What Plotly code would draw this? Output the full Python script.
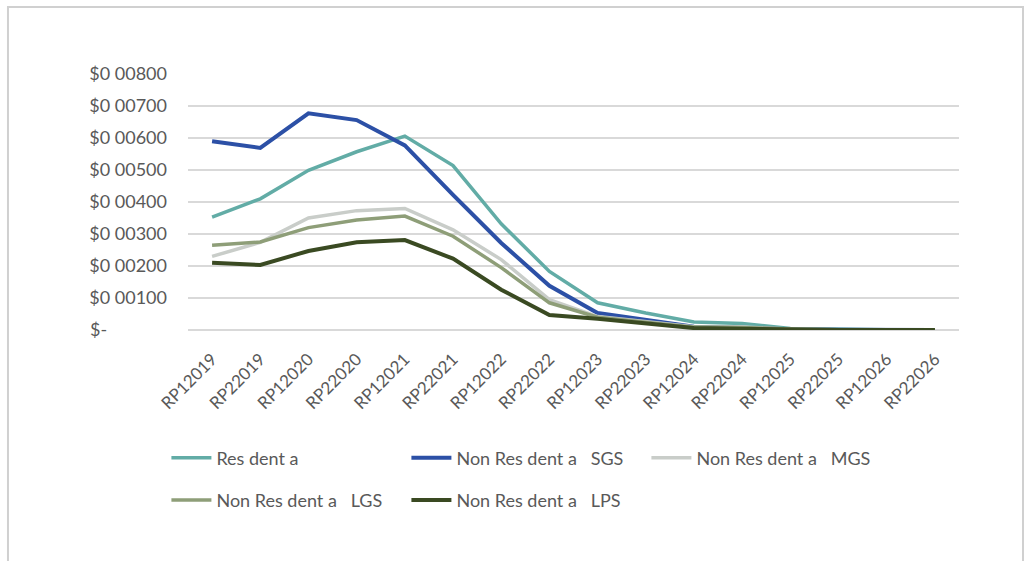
import plotly.graph_objects as go

categories = ["RP12019", "RP22019", "RP12020", "RP22020", "RP12021", "RP22021",
              "RP12022", "RP22022", "RP12023", "RP22023", "RP12024", "RP22024",
              "RP12025", "RP22025", "RP12026", "RP22026"]

residential = [0.00353, 0.00410, 0.00499, 0.00557, 0.00606, 0.00514, 0.00332, 0.00183,
               0.00085, 0.00053, 0.00025, 0.00020, 0.00005, 0.00002, 0.00001, 0.00000]
nonres_sgs = [0.00590, 0.00569, 0.00677, 0.00656, 0.00577, 0.00422, 0.00272, 0.00138,
              0.00053, 0.00030, 0.00010, 0.00007, 0.00002, 0.00001, 0.00000, 0.00000]
nonres_mgs = [0.00230, 0.00274, 0.00350, 0.00373, 0.00380, 0.00313, 0.00220, 0.00095,
              0.00042, 0.00026, 0.00010, 0.00009, 0.00003, 0.00001, 0.00000, 0.00000]
nonres_lgs = [0.00265, 0.00275, 0.00320, 0.00344, 0.00356, 0.00293, 0.00195, 0.00085,
              0.00040, 0.00024, 0.00009, 0.00008, 0.00003, 0.00001, 0.00000, 0.00000]
nonres_lps = [0.00210, 0.00203, 0.00247, 0.00274, 0.00281, 0.00223, 0.00126, 0.00047,
              0.00035, 0.00022, 0.00006, 0.00004, 0.00001, 0.00000, 0.00000, 0.00000]

series_names = ["Res dent a",
                "Non Res dent a\u00a0\u00a0\u00a0SGS",
                "Non Res dent a\u00a0\u00a0\u00a0MGS",
                "Non Res dent a\u00a0\u00a0\u00a0LGS",
                "Non Res dent a\u00a0\u00a0\u00a0LPS"]

y_tickvals = [0, 0.001, 0.002, 0.003, 0.004, 0.005, 0.006, 0.007, 0.008]
y_ticktext = ["$-" + "\u00a0" * 13, "$0 00100", "$0 00200", "$0 00300", "$0 00400",
              "$0 00500", "$0 00600", "$0 00700", "$0 00800"]

series = [residential, nonres_sgs, nonres_mgs, nonres_lgs, nonres_lps]
colors = ["#62ACA6", "#2C50A6", "#C9CDC9", "#8E9E78", "#3A4A22"]
widths = [3.5, 4, 3.5, 3.5, 4]
legend_ids = ["legend", "legend", "legend", "legend2", "legend2"]

FONT = "Lato, 'Liberation Sans', sans-serif"
TXT = "#595959"

fig = go.Figure()
for name, vals, c, w, lg in zip(series_names, series, colors, widths, legend_ids):
    fig.add_trace(go.Scatter(x=categories, y=vals, mode="lines", name=name,
                             line=dict(color=c, width=w), legend=lg))

legend_common = dict(orientation="h", xanchor="left", yanchor="middle",
                     entrywidth=185, entrywidthmode="pixels",
                     font=dict(family=FONT, size=18, color=TXT),
                     bgcolor="rgba(0,0,0,0)", itemwidth=40)

fig.update_layout(
    width=1026, height=561,
    margin=dict(l=188, r=67, t=74, b=231),
    paper_bgcolor="white", plot_bgcolor="white",
    font=dict(family=FONT, color=TXT),
    showlegend=True,
    legend=dict(x=-0.028, y=-0.5, **legend_common),
    legend2=dict(x=-0.028, y=-0.665, **legend_common),
    xaxis=dict(type="category", range=[-0.5, 15.5], showgrid=False,
               tickangle=-45, tickfont=dict(family=FONT, size=17, color=TXT),
               ticks="", showline=False, ticklabelstandoff=15),
    yaxis=dict(range=[0, 0.008], tickvals=y_tickvals, ticktext=y_ticktext,
               showgrid=True, gridcolor="#D9D9D9", gridwidth=2,
               tickfont=dict(family=FONT, size=18, color=TXT),
               zeroline=True, zerolinecolor="#D9D9D9", zerolinewidth=2,
               showline=False, ticks="", ticklabelstandoff=20),
    shapes=[dict(type="rect", xref="paper", yref="paper",
                 x0=-0.2335, x1=1.083, y0=-1.0, y1=1.2617,
                 line=dict(color="#D0D0D0", width=2), layer="below")],
)

fig.write_html("out.html")
